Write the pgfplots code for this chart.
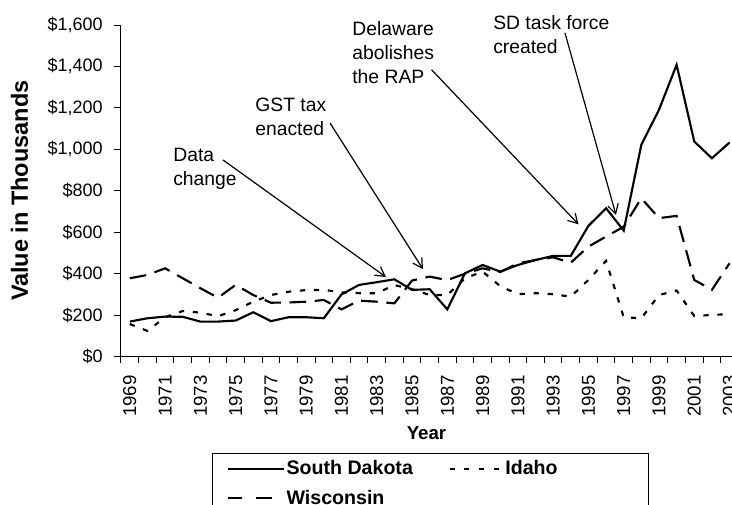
\documentclass[border=0pt]{standalone}
\usepackage{fontspec}
\setmainfont{Liberation Sans}
\usepackage{pgfplots}
\usepackage{pgfplotstable}
\pgfplotsset{compat=1.18}
\usetikzlibrary{arrows.meta}
\pgfplotstableread{
year sd id wi
1969 169 157 378
1970 185 124 394
1971 193 190 426
1972 192 220 378
1973 169 212 330
1974 169 195 284
1975 174 224 346
1976 214 265 297
1977 171 297 260
1978 190 313 261
1979 190 321 265
1980 185 322 273
1981 300 310 228
1982 346 306 270
1983 359 306 265
1984 373 345 257
1985 322 325 367
1986 325 297 386
1987 228 297 369
1988 402 378 400
1989 442 410 426
1990 410 340 408
1991 442 301 450
1992 466 306 466
1993 486 301 479
1994 486 289 453
1995 631 370 531
1996 716 462 579
1997 608 190 627
1998 1022 185 764
1999 1191 297 668
2000 1408 319 679
2001 1038 196 370
2002 957 201 322
2003 1033 205 450
}\datatable
\newcommand{\anfont}{\fontsize{14.5}{18}\selectfont}
\newcommand{\xtkfont}{\fontsize{14}{16}\selectfont}
\newcommand{\ytkfont}{\fontsize{13.5}{16}\selectfont}
\begin{document}
\begin{tikzpicture}
\useasboundingbox (-90.75pt,-110.55pt) rectangle (458.25pt,267.45pt);
\begin{axis}[
  at={(0pt,0pt)}, anchor=south west,
  scale only axis, width=458.25pt, height=248.7pt,
  xmin=1968.5, xmax=2003.14, ymin=0, ymax=1600,
  clip=false,
  axis lines*=left,
  axis line style={-, line width=0.75pt},
  xtick={1969,1971,...,2003},
  minor xtick={1968.5,1969.5,...,2002.5},
  ytick={0,200,...,1600},
  minor ytick={0,200,...,1600},
  yticklabels={\$0,\$200,\$400,\$600,\$800,{\$1,000},{\$1,200},{\$1,400},{\$1,600}},
  xticklabels={1969,1971,1973,1975,1977,1979,1981,1983,1985,1987,1989,1991,1993,1995,1997,1999,2001,2003},
  major tick length=0pt, minor tick length=5pt,
  tick align=outside,
  tick style={line width=0.75pt, black},
  xticklabel style={font=\xtkfont, inner sep=0pt, yshift=-13.8pt, rotate=90, anchor=east},
  yticklabel style={font=\ytkfont, inner sep=0pt, xshift=-13.5pt, anchor=east},
  ylabel={Value in Thousands},
  ylabel style={at={(axis description cs:-0.1522,0.5)}, anchor=base, font=\bfseries\fontsize{17.6}{20}\selectfont},
  xlabel={Year},
  xlabel style={at={(axis description cs:0.5,-0.2485)}, anchor=base, font=\bfseries\fontsize{14}{17}\selectfont},
  legend columns=2,
  legend cell align=left,
  legend image code/.code={\draw[#1] (0pt,0pt) -- (42pt,0pt);},
  legend style={at={(axis description cs:0.1489,-0.2907)}, anchor=north west,
    draw=black, line width=0.75pt, inner xsep=11pt, inner ysep=4.25pt,
    nodes={inner sep=1pt},
    font=\bfseries\fontsize{14.7}{17}\selectfont, row sep=8pt,
    /tikz/every even column/.append style={column sep=25.75pt}},
]
\addplot[black, line width=1.6pt] table[x=year, y=sd] {\datatable};
\addlegendentry{South Dakota}
\addplot[black, line width=1.6pt, dash pattern=on 4pt off 6.5pt,
  legend image code/.code={\draw[black, line width=1.6pt, dash pattern=on 3.8pt off 7.2pt] (0pt,0pt) -- (40pt,0pt);}] table[x=year, y=id] {\datatable};
\addlegendentry{\makebox[95pt][l]{Idaho}}
\addplot[black, line width=1.6pt, dash pattern=on 12.5pt off 6.5pt,
  legend image code/.code={\draw[black, line width=1.6pt] (0pt,0pt) -- (10.5pt,0pt) (21pt,0pt) -- (33pt,0pt);}] table[x=year, y=wi] {\datatable};
\addlegendentry{Wisconsin}

\draw[-{Straight Barb[length=7pt,width=8pt]}, line width=0.9pt] (axis cs:1974.28,949) -- (axis cs:1983.52,384);
\draw[-{Straight Barb[length=7pt,width=8pt]}, line width=0.9pt] (axis cs:1980.35,1127) -- (axis cs:1985.62,422);
\draw[-{Straight Barb[length=7pt,width=8pt]}, line width=0.9pt] (axis cs:1986.11,1384) -- (axis cs:1994.44,638);
\draw[-{Straight Barb[length=7pt,width=8pt]}, line width=0.9pt] (axis cs:1993.67,1562) -- (axis cs:1996.56,684);

\node[anchor=north west, inner sep=0pt, align=left, font=\anfont] at (axis cs:1971.45,1007) {Data\\change};
\node[anchor=north west, inner sep=0pt, align=left, font=\anfont] at (axis cs:1976.1,1247) {GST tax\\enacted};
\node[anchor=north west, inner sep=0pt, align=left, font=\anfont] at (axis cs:1981.6,1616) {Delaware\\abolishes\\the RAP};
\node[anchor=north west, inner sep=0pt, align=left, font=\anfont] at (axis cs:1989.59,1649) {SD task force\\created};
\end{axis}
\end{tikzpicture}
\end{document}
